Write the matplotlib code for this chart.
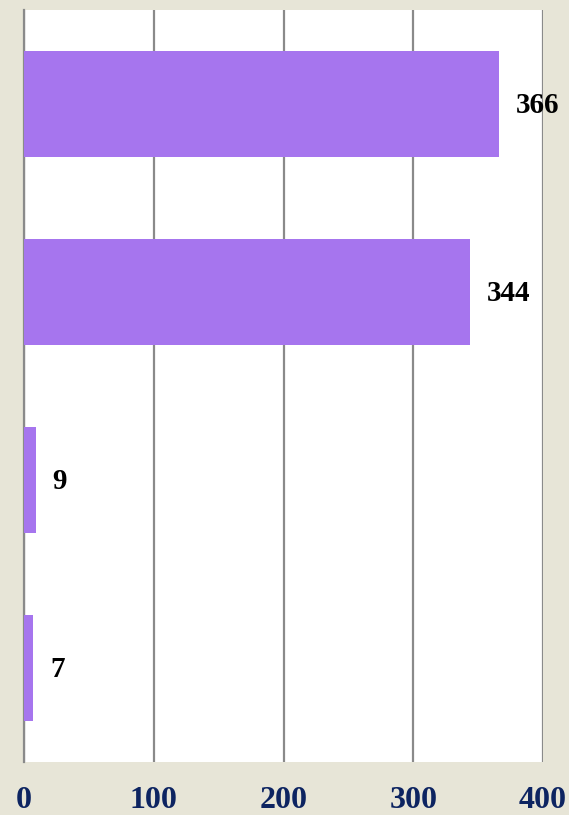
import matplotlib.pyplot as plt

# data (top to bottom)
categories = ["A", "B", "C", "D"]
values = [366, 344, 9, 7]
xticks = [0, 100, 200, 300, 400]

bar_color = "#a675ee"
bg_color = "#e7e5d7"
tick_color = "#0d2461"

fig = plt.figure(figsize=(5.69, 8.15), dpi=100, facecolor=bg_color)
ax = fig.add_axes([24 / 569, 53 / 815, 519 / 569, 752 / 815])
ax.set_facecolor("white")

ypos = list(range(len(categories)))
ax.barh(ypos, values, height=0.565, color=bar_color, zorder=3)

for y, v in zip(ypos, values):
    ax.text(v + 13, y + 0.01, str(v), va="center", ha="left",
            fontfamily="Liberation Serif", fontweight="bold",
            fontsize=21, color="black", clip_on=False, zorder=4)

ax.set_xlim(0, 400)
ax.set_ylim(len(categories) - 0.5, -0.5)
ax.set_xticks(xticks)
ax.set_xticklabels([str(t) for t in xticks], fontfamily="Liberation Serif",
                   fontweight="bold", fontsize=23, color=tick_color)
ax.tick_params(axis="x", length=0, pad=17)
ax.set_yticks([])

ax.grid(axis="x", color="#8a8a8a", linewidth=1.6, zorder=1)
for side in ["top", "right", "bottom"]:
    ax.spines[side].set_visible(False)
ax.spines["left"].set_color("#8a8a8a")
ax.spines["left"].set_linewidth(1.6)

fig.savefig("out.png", dpi=100, facecolor=bg_color)
